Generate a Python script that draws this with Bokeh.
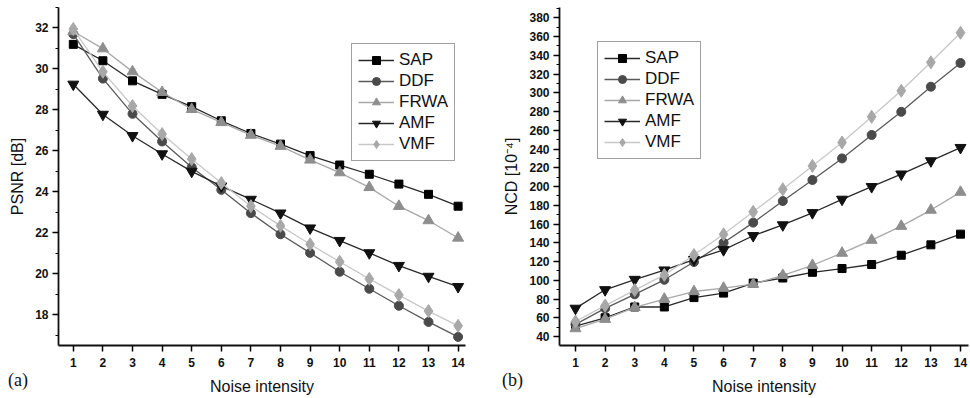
from bokeh.plotting import figure
from bokeh.layouts import row
from bokeh.models import Range1d, FixedTicker, Legend, LegendItem, Div
from bokeh.embed import file_html
from bokeh.resources import INLINE

x = list(range(1, 15))
x_ticks = list(range(1, 15))

series_names = ["SAP", "DDF", "FRWA", "AMF", "VMF"]

psnr_sap = [31.2, 30.4, 29.42, 28.76, 28.16, 27.47, 26.85, 26.33, 25.77, 25.31, 24.86, 24.38, 23.88, 23.3]
psnr_ddf = [31.7, 29.53, 27.81, 26.46, 25.2, 24.1, 22.96, 21.93, 21.02, 20.1, 19.27, 18.44, 17.65, 16.92]
psnr_frwa = [31.83, 30.99, 29.87, 28.86, 28.03, 27.39, 26.77, 26.23, 25.56, 24.94, 24.22, 23.3, 22.6, 21.75]
psnr_amf = [29.25, 27.78, 26.74, 25.85, 25.0, 24.28, 23.63, 22.96, 22.23, 21.62, 21.02, 20.4, 19.87, 19.37]
psnr_vmf = [31.95, 29.86, 28.19, 26.82, 25.6, 24.43, 23.3, 22.34, 21.44, 20.59, 19.75, 18.96, 18.18, 17.46]

ncd_sap = [51, 60, 71.5, 71.5, 81.5, 86.3, 97, 102.4, 108.5, 112.5, 116.8, 126.7, 137.8, 149.2]
ncd_ddf = [53, 70, 85, 100.5, 119.5, 140, 161.5, 184.5, 207, 230, 255, 279.7, 306.5, 331.8]
ncd_frwa = [48.5, 58.5, 71, 80, 88, 91.6, 95.8, 105.3, 116, 129, 142.8, 157.7, 174.9, 194]
ncd_amf = [70, 89.8, 100.8, 110.8, 122, 132.5, 147.5, 159, 172, 186.3, 199.8, 213.2, 227.3, 241.5]
ncd_vmf = [56, 73, 89.5, 105.7, 126.9, 149, 173, 197, 222, 247, 274.4, 302.2, 332.5, 364]

psnr_ticks = [18, 20, 22, 24, 26, 28, 30, 32]
psnr_minor = [17, 19, 21, 23, 25, 27, 29, 31, 33]
ncd_ticks = list(range(40, 381, 20))
ncd_minor = list(range(30, 391, 10))

FONT = "Liberation Sans"
styles = [
    dict(marker="square", line="#2a2a2a", fill="#000000", size=8),
    dict(marker="circle", line="#5a5a5a", fill="#4a4a4a", size=9),
    dict(marker="triangle", line="#a8a8a8", fill="#8e8e8e", size=11),
    dict(marker="inverted_triangle", line="#2a2a2a", fill="#111111", size=11),
    dict(marker="diamond", line="#c8c8c8", fill="#a8a8a8", size=13),
]


def make_panel(series, xr, yr, ticks, minor, ylabel, border_left, border_right, legend_pos):
    p = figure(width=485, height=398, output_backend="svg", toolbar_location=None,
               x_range=Range1d(*xr), y_range=Range1d(*yr),
               min_border_left=border_left, min_border_right=border_right,
               min_border_top=7, min_border_bottom=53)
    p.outline_line_color = None
    p.xgrid.visible = False
    p.ygrid.visible = False
    items = []
    for name, ys, st in zip(series_names, series, styles):
        r1 = p.line(x, ys, line_color=st["line"], line_width=1.3)
        r2 = p.scatter(x, ys, marker=st["marker"], size=st["size"],
                       fill_color=st["fill"], line_color=st["fill"])
        items.append(LegendItem(label=name, renderers=[r1, r2]))
    leg = Legend(items=items, location=legend_pos)
    leg.label_text_font = FONT
    leg.label_text_font_size = "17px"
    leg.label_text_color = "#111111"
    leg.glyph_width = 36
    leg.glyph_height = 20
    leg.label_height = 20
    leg.spacing = 1
    leg.padding = 6
    leg.margin = 0
    leg.label_standoff = 5
    leg.border_line_color = "#444444"
    leg.border_line_width = 1.5
    p.add_layout(leg)

    for ax in (p.xaxis[0], p.yaxis[0]):
        ax.axis_line_width = 1.8
        ax.axis_line_color = "#111111"
        ax.major_tick_line_width = 1.5
        ax.minor_tick_line_width = 1.2
        ax.major_tick_out = 6
        ax.major_tick_in = 0
        ax.minor_tick_out = 3
        ax.minor_tick_in = 0
        ax.major_label_text_font = FONT
        ax.major_label_text_font_size = "12px"
        ax.major_label_text_font_style = "bold"
        ax.major_label_text_color = "#111111"
        ax.axis_label_text_font = FONT
        ax.axis_label_text_font_size = "16px"
        ax.axis_label_text_font_style = "normal"
        ax.axis_label_text_color = "#111111"
    p.xaxis[0].ticker = FixedTicker(ticks=x_ticks)
    p.yaxis[0].ticker = FixedTicker(ticks=ticks, minor_ticks=minor)
    p.xaxis[0].axis_label = "Noise intensity"
    p.yaxis[0].axis_label = ylabel
    p.xaxis[0].major_label_standoff = 6
    p.xaxis[0].axis_label_standoff = 8
    p.yaxis[0].major_label_standoff = 4
    p.yaxis[0].axis_label_standoff = 6
    return p


def tag(text, left):
    return Div(text=text, width=30, height=22, margin=0,
               styles={"position": "absolute", "left": f"{left}px", "top": "370px",
                       "font-family": "Liberation Serif", "font-size": "18px",
                       "color": "#111111", "line-height": "20px"})


p1 = make_panel([psnr_sap, psnr_ddf, psnr_frwa, psnr_amf, psnr_vmf],
                (0.5, 14.25), (16.5, 33.0), psnr_ticks, psnr_minor, "PSNR [dB]",
                58, 20, (293, 184))
p2 = make_panel([ncd_sap, ncd_ddf, ncd_frwa, ncd_amf, ncd_vmf],
                (0.46, 14.27), (30.4, 391.0), ncd_ticks, ncd_minor, "NCD [10\u207b\u2074]",
                74, 2, (38, 186))

layout = row(p1, p2, tag("(a)", 8), tag("(b)", 502))
open("out.html", "w").write(file_html(layout, INLINE))
